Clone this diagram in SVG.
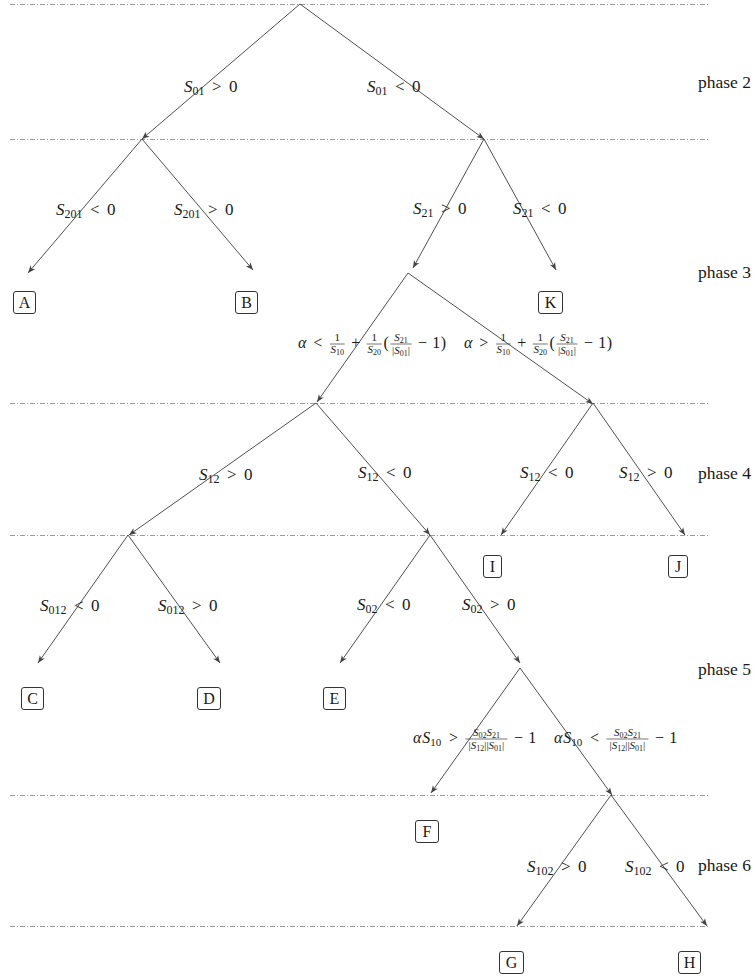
<svg xmlns="http://www.w3.org/2000/svg" width="755" height="976" viewBox="0 0 755 976">
<style>
text{font-family:"Liberation Serif","DejaVu Serif",serif;fill:#1a1a1a}
.lb{font-size:17px}
.it{font-style:italic}
.sb{font-size:12px}
.ph{font-size:17.5px}
.m{font-size:16px;text-anchor:middle}
.f{font-size:11px;text-anchor:middle}
.fs{font-size:8px}
.bar{stroke:#1a1a1a;stroke-width:0.6}
.dl{stroke:#9a9a9a;stroke-width:1;stroke-dasharray:5 2 1 2;fill:none}
.e{stroke:#505050;stroke-width:1;fill:none;marker-end:url(#ah)}
.bx rect{fill:#fff;stroke:#333;stroke-width:1}
.bx text{font-size:16px;text-anchor:middle}
</style>
<defs>
<marker id="ah" markerUnits="userSpaceOnUse" markerWidth="10" markerHeight="10" refX="0" refY="0" viewBox="-7 -4 8 8" orient="auto" overflow="visible">
<path d="M0,0 L-6,-2.4 L-4.4,0 L-6,2.4 Z" fill="#444"/>
</marker>
</defs>

<g id="phase-lines">
<line class="dl" x1="10" y1="4.5" x2="710" y2="4.5"/>
<line class="dl" x1="10" y1="139.5" x2="710" y2="139.5"/>
<line class="dl" x1="10" y1="403.5" x2="710" y2="403.5"/>
<line class="dl" x1="10" y1="535.5" x2="710" y2="535.5"/>
<line class="dl" x1="10" y1="795.5" x2="710" y2="795.5"/>
<line class="dl" x1="10" y1="926.5" x2="710" y2="926.5"/>
</g>

<g id="phases">
<text class="ph" x="698" y="88">phase 2</text>
<text class="ph" x="698" y="278">phase 3</text>
<text class="ph" x="698" y="479">phase 4</text>
<text class="ph" x="698" y="675">phase 5</text>
<text class="ph" x="698" y="871">phase 6</text>
</g>

<g id="connectors">
<line class="e" x1="300" y1="4" x2="142" y2="139"/>
<line class="e" x1="300" y1="4" x2="484" y2="139"/>
<line class="e" x1="142" y1="139" x2="28" y2="273"/>
<line class="e" x1="142" y1="139" x2="253" y2="270"/>
<line class="e" x1="484" y1="139" x2="413" y2="268"/>
<line class="e" x1="484" y1="139" x2="556" y2="270"/>
<line class="e" x1="408" y1="273" x2="317" y2="402"/>
<line class="e" x1="408" y1="273" x2="593" y2="404"/>
<line class="e" x1="316" y1="403" x2="129" y2="535"/>
<line class="e" x1="316" y1="403" x2="430" y2="535"/>
<line class="e" x1="593" y1="403" x2="501" y2="535"/>
<line class="e" x1="593" y1="403" x2="685" y2="535"/>
<line class="e" x1="128" y1="535" x2="38" y2="663"/>
<line class="e" x1="128" y1="535" x2="220" y2="663"/>
<line class="e" x1="430" y1="535" x2="340" y2="663"/>
<line class="e" x1="430" y1="535" x2="520" y2="663"/>
<line class="e" x1="520" y1="668" x2="431" y2="793"/>
<line class="e" x1="520" y1="668" x2="612" y2="795"/>
<line class="e" x1="611" y1="795" x2="517" y2="926"/>
<line class="e" x1="611" y1="795" x2="707" y2="926"/>
</g>

<g id="edge-labels">
<text class="lb" x="184" y="92"><tspan class="it">S</tspan><tspan class="sb" dy="3">01</tspan><tspan dy="-3" dx="7.5">&gt;</tspan><tspan dx="7.5">0</tspan></text>
<text class="lb" x="367" y="92"><tspan class="it">S</tspan><tspan class="sb" dy="3">01</tspan><tspan dy="-3" dx="7.5">&lt;</tspan><tspan dx="7.5">0</tspan></text>
<text class="lb" x="56" y="215"><tspan class="it">S</tspan><tspan class="sb" dy="3">201</tspan><tspan dy="-3" dx="7.5">&lt;</tspan><tspan dx="7.5">0</tspan></text>
<text class="lb" x="174" y="215"><tspan class="it">S</tspan><tspan class="sb" dy="3">201</tspan><tspan dy="-3" dx="7.5">&gt;</tspan><tspan dx="7.5">0</tspan></text>
<text class="lb" x="413" y="214"><tspan class="it">S</tspan><tspan class="sb" dy="3">21</tspan><tspan dy="-3" dx="7.5">&gt;</tspan><tspan dx="7.5">0</tspan></text>
<text class="lb" x="513" y="214"><tspan class="it">S</tspan><tspan class="sb" dy="3">21</tspan><tspan dy="-3" dx="7.5">&lt;</tspan><tspan dx="7.5">0</tspan></text>

<g id="label-alpha-left">
<text class="m it" x="302.1" y="348">α</text>
<text class="m" x="317.8" y="348">&lt;</text>
<text class="f" x="337.2" y="341">1</text>
<line class="bar" x1="330" y1="344" x2="344.7" y2="344"/>
<text class="f" x="337.2" y="353"><tspan class="it">S</tspan><tspan class="fs" dy="2">10</tspan></text>
<text class="m" x="355.7" y="348">+</text>
<text class="f" x="374.3" y="341">1</text>
<line class="bar" x1="366.7" y1="344" x2="381.8" y2="344"/>
<text class="f" x="374.3" y="353"><tspan class="it">S</tspan><tspan class="fs" dy="2">20</tspan></text>
<text class="m" x="386.1" y="348">(</text>
<text class="f" x="401" y="341"><tspan class="it">S</tspan><tspan class="fs" dy="2">21</tspan></text>
<line class="bar" x1="390.4" y1="344" x2="411.5" y2="344"/>
<text class="f" x="401" y="354">|<tspan class="it">S</tspan><tspan class="fs" dy="2">01</tspan><tspan dy="-2">|</tspan></text>
<text class="m" x="422.5" y="348">−</text>
<text class="m" x="436.3" y="348">1</text>
<text class="m" x="443.4" y="348">)</text>
</g>
<g id="label-alpha-right">
<text class="m it" x="468.1" y="348">α</text>
<text class="m" x="483.8" y="348">&gt;</text>
<text class="f" x="503.2" y="341">1</text>
<line class="bar" x1="496" y1="344" x2="510.7" y2="344"/>
<text class="f" x="503.2" y="353"><tspan class="it">S</tspan><tspan class="fs" dy="2">10</tspan></text>
<text class="m" x="521.7" y="348">+</text>
<text class="f" x="540.3" y="341">1</text>
<line class="bar" x1="532.7" y1="344" x2="547.8" y2="344"/>
<text class="f" x="540.3" y="353"><tspan class="it">S</tspan><tspan class="fs" dy="2">20</tspan></text>
<text class="m" x="552.1" y="348">(</text>
<text class="f" x="567" y="341"><tspan class="it">S</tspan><tspan class="fs" dy="2">21</tspan></text>
<line class="bar" x1="556.4" y1="344" x2="577.5" y2="344"/>
<text class="f" x="567" y="354">|<tspan class="it">S</tspan><tspan class="fs" dy="2">01</tspan><tspan dy="-2">|</tspan></text>
<text class="m" x="588.5" y="348">−</text>
<text class="m" x="602.3" y="348">1</text>
<text class="m" x="609.4" y="348">)</text>
</g>

<text class="lb" x="199" y="480"><tspan class="it">S</tspan><tspan class="sb" dy="3">12</tspan><tspan dy="-3" dx="7.5">&gt;</tspan><tspan dx="7.5">0</tspan></text>
<text class="lb" x="358" y="478"><tspan class="it">S</tspan><tspan class="sb" dy="3">12</tspan><tspan dy="-3" dx="7.5">&lt;</tspan><tspan dx="7.5">0</tspan></text>
<text class="lb" x="520" y="478"><tspan class="it">S</tspan><tspan class="sb" dy="3">12</tspan><tspan dy="-3" dx="7.5">&lt;</tspan><tspan dx="7.5">0</tspan></text>
<text class="lb" x="619" y="478"><tspan class="it">S</tspan><tspan class="sb" dy="3">12</tspan><tspan dy="-3" dx="7.5">&gt;</tspan><tspan dx="7.5">0</tspan></text>
<text class="lb" x="40" y="611"><tspan class="it">S</tspan><tspan class="sb" dy="3">012</tspan><tspan dy="-3" dx="7.5">&lt;</tspan><tspan dx="7.5">0</tspan></text>
<text class="lb" x="158" y="611"><tspan class="it">S</tspan><tspan class="sb" dy="3">012</tspan><tspan dy="-3" dx="7.5">&gt;</tspan><tspan dx="7.5">0</tspan></text>
<text class="lb" x="357" y="610"><tspan class="it">S</tspan><tspan class="sb" dy="3">02</tspan><tspan dy="-3" dx="7.5">&lt;</tspan><tspan dx="7.5">0</tspan></text>
<text class="lb" x="462" y="610"><tspan class="it">S</tspan><tspan class="sb" dy="3">02</tspan><tspan dy="-3" dx="7.5">&gt;</tspan><tspan dx="7.5">0</tspan></text>

<g id="label-aS10-left">
<text class="m it" x="417.1" y="743">α</text>
<text x="422.2" y="743" font-size="16px"><tspan class="it">S</tspan><tspan font-size="11px" dy="3">10</tspan></text>
<text class="m" x="453.6" y="743">&gt;</text>
<text class="f" x="486.4" y="736"><tspan class="it">S</tspan><tspan class="fs" dy="2">02</tspan><tspan class="it" dy="-2">S</tspan><tspan class="fs" dy="2">21</tspan></text>
<line class="bar" x1="465.4" y1="739" x2="507.4" y2="739"/>
<text class="f" x="486.4" y="749">|<tspan class="it">S</tspan><tspan class="fs" dy="2">12</tspan><tspan dy="-2">||</tspan><tspan class="it">S</tspan><tspan class="fs" dy="2">01</tspan><tspan dy="-2">|</tspan></text>
<text class="m" x="518.4" y="743">−</text>
<text class="m" x="532.2" y="743">1</text>
</g>
<g id="label-aS10-right">
<text class="m it" x="558.1" y="743">α</text>
<text x="563.2" y="743" font-size="16px"><tspan class="it">S</tspan><tspan font-size="11px" dy="3">10</tspan></text>
<text class="m" x="594.6" y="743">&lt;</text>
<text class="f" x="627.4" y="736"><tspan class="it">S</tspan><tspan class="fs" dy="2">02</tspan><tspan class="it" dy="-2">S</tspan><tspan class="fs" dy="2">21</tspan></text>
<line class="bar" x1="606.4" y1="739" x2="648.4" y2="739"/>
<text class="f" x="627.4" y="749">|<tspan class="it">S</tspan><tspan class="fs" dy="2">12</tspan><tspan dy="-2">||</tspan><tspan class="it">S</tspan><tspan class="fs" dy="2">01</tspan><tspan dy="-2">|</tspan></text>
<text class="m" x="659.4" y="743">−</text>
<text class="m" x="673.2" y="743">1</text>
</g>

<text class="lb" x="527" y="872"><tspan class="it">S</tspan><tspan class="sb" dy="3">102</tspan><tspan dy="-3" dx="7.5">&gt;</tspan><tspan dx="7.5">0</tspan></text>
<text class="lb" x="625" y="872"><tspan class="it">S</tspan><tspan class="sb" dy="3">102</tspan><tspan dy="-3" dx="7.5">&lt;</tspan><tspan dx="7.5">0</tspan></text>
</g>

<g id="node-A" class="bx"><rect x="13.5" y="291.5" width="22" height="22" rx="2.5"/><text x="24.5" y="308">A</text></g>
<g id="node-B" class="bx"><rect x="235.5" y="291.5" width="22" height="22" rx="2.5"/><text x="246.5" y="308">B</text></g>
<g id="node-K" class="bx"><rect x="538.5" y="291.5" width="24" height="22" rx="2.5"/><text x="550.5" y="308">K</text></g>
<g id="node-I" class="bx"><rect x="483.5" y="555.5" width="18" height="22" rx="2.5"/><text x="492.5" y="572">I</text></g>
<g id="node-J" class="bx"><rect x="668.5" y="555.5" width="19" height="22" rx="2.5"/><text x="678" y="572">J</text></g>
<g id="node-C" class="bx"><rect x="21.5" y="687.5" width="22" height="22" rx="2.5"/><text x="32.5" y="704">C</text></g>
<g id="node-D" class="bx"><rect x="197.5" y="687.5" width="23" height="22" rx="2.5"/><text x="209" y="704">D</text></g>
<g id="node-E" class="bx"><rect x="323.5" y="687.5" width="22" height="22" rx="2.5"/><text x="334.5" y="704">E</text></g>
<g id="node-F" class="bx"><rect x="415.5" y="820.5" width="23" height="22" rx="2.5"/><text x="427" y="837">F</text></g>
<g id="node-G" class="bx"><rect x="499.5" y="951.5" width="24" height="22" rx="2.5"/><text x="511.5" y="968">G</text></g>
<g id="node-H" class="bx"><rect x="678.5" y="951.5" width="22" height="22" rx="2.5"/><text x="689.5" y="968">H</text></g>
</svg>
